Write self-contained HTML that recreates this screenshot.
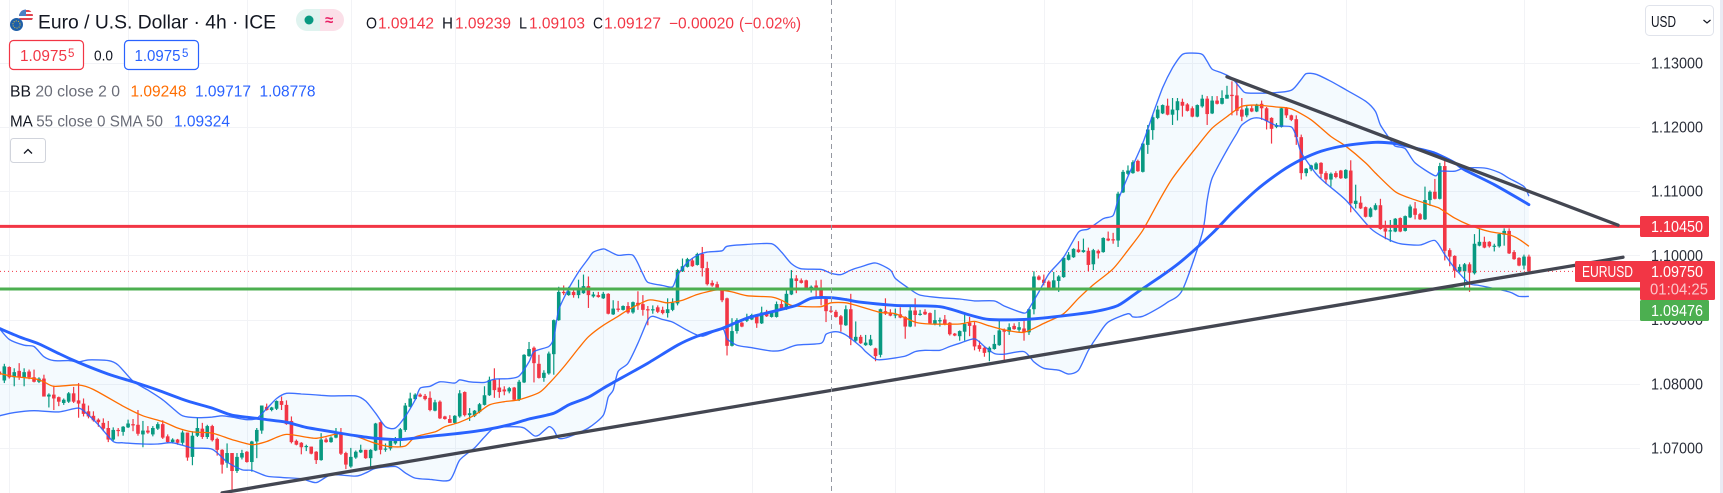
<!DOCTYPE html>
<html lang="en">
<head>
<meta charset="utf-8">
<title>EURUSD 4h chart</title>
<style>
html,body{margin:0;padding:0;background:#fff;width:1723px;height:493px;overflow:hidden}
svg{display:block;font-family:"Liberation Sans",sans-serif}
</style>
</head>
<body>
<svg id="chart" xmlns="http://www.w3.org/2000/svg" width="1723" height="493" viewBox="0 0 1723 493">
  <rect x="0" y="0" width="1723" height="493" fill="#ffffff"/>
  <g id="grid"></g>
  <path id="bbFill" fill="#2196f3" fill-opacity="0.05" stroke="none"/>
  <g id="candles"></g>
  <path id="bbBasis" fill="none" stroke="#ff6d00" stroke-width="1.3" stroke-linejoin="round"/>
  <path id="bbUpper" fill="none" stroke="#2962ff" stroke-opacity="0.9" stroke-width="1.35" stroke-linejoin="round"/>
  <path id="bbLower" fill="none" stroke="#2962ff" stroke-opacity="0.9" stroke-width="1.35" stroke-linejoin="round"/>
  <path id="maLine" fill="none" stroke="#2962ff" stroke-width="2.9" stroke-linejoin="round" stroke-linecap="round"/>
  <line id="lastLine" x1="0" x2="1640" stroke="#f23645" stroke-width="1" stroke-dasharray="1 3"/>
  <line id="resLine" x1="0" x2="1640" stroke="#f23645" stroke-width="3"/>
  <line id="supLine" x1="0" x2="1640" stroke="#4caf50" stroke-width="3"/>
  <line id="trendDown" stroke="#434651" stroke-width="3.3" stroke-linecap="round"/>
  <line id="trendUp" stroke="#434651" stroke-width="3.3" stroke-linecap="round"/>
  <line id="crosshair" x1="831.5" x2="831.5" y1="0" y2="493" stroke="#9598a1" stroke-width="1" stroke-dasharray="5 4"/>

  <rect x="1640" y="0" width="83" height="493" fill="#ffffff"/>
  <rect x="1720" y="0" width="3" height="493" fill="#e9ebf4"/>
  <g id="ticks"></g>

  <g>
    <rect x="1645.5" y="5.5" width="68" height="30" rx="4" fill="#fff" stroke="#e0e3eb"/>
    <text x="1651" y="27" font-size="15.5" fill="#131722" textLength="25" lengthAdjust="spacingAndGlyphs">USD</text>
    <path d="M1703.5 20l3.5 3 3.5-3" fill="none" stroke="#131722" stroke-width="1.2"/>
  </g>

  <g>
    <rect x="1640" y="216" width="69" height="21" rx="1.5" fill="#f23645"/>
    <text x="1651" y="232" font-size="15.5" fill="#fff" textLength="52" lengthAdjust="spacingAndGlyphs">1.10450</text>
  </g>
  <g>
    <rect x="1575" y="261" width="68" height="21" rx="1.5" fill="#f23645"/>
    <text x="1582" y="277" font-size="15.5" fill="#fff" textLength="51" lengthAdjust="spacingAndGlyphs">EURUSD</text>
    <rect x="1640" y="261" width="75" height="39" rx="1.5" fill="#f23645"/>
    <text x="1651" y="277" font-size="15.5" fill="#fff" textLength="52" lengthAdjust="spacingAndGlyphs">1.09750</text>
    <text x="1650" y="294.5" font-size="15.5" fill="#fbc4c9" textLength="58" lengthAdjust="spacingAndGlyphs">01:04:25</text>
  </g>
  <g>
    <rect x="1640" y="300" width="69" height="21" rx="1.5" fill="#4caf50"/>
    <text x="1651" y="316" font-size="15.5" fill="#fff" textLength="52" lengthAdjust="spacingAndGlyphs">1.09476</text>
  </g>

  <g>
    <clipPath id="usClip"><circle cx="26" cy="16.5" r="7"/></clipPath>
    <g clip-path="url(#usClip)">
      <rect x="19" y="9" width="14" height="15" fill="#fff"/>
      <rect x="19" y="10" width="14" height="2" fill="#e0424e"/>
      <rect x="19" y="14" width="14" height="2" fill="#e0424e"/>
      <rect x="19" y="18" width="14" height="2" fill="#e0424e"/>
      <rect x="19" y="9" width="7" height="7" fill="#4a7fc4"/>
    </g>
    <circle cx="16.5" cy="24.5" r="6.5" fill="#1e5fa8"/>
    <circle cx="16.5" cy="24.5" r="3.6" fill="none" stroke="#e8c53a" stroke-width="1" stroke-dasharray="1 1.3"/>
  </g>
  <text x="38" y="28.5" font-size="19.5" fill="#131722" textLength="238" lengthAdjust="spacingAndGlyphs">Euro / U.S. Dollar · 4h · ICE</text>

  <g>
    <path d="M320 9h-13a11 11 0 0 0 0 22h13z" fill="#dff3ef"/>
    <path d="M320 9h13a11 11 0 0 1 0 22h-13z" fill="#fbdfe8"/>
    <circle cx="309" cy="20" r="4.5" fill="#089981"/>
    <text x="325" y="25" font-size="15" font-weight="bold" fill="#e91e63">≈</text>
  </g>

  <g font-size="15.5">
    <text x="366" y="28.5" fill="#131722" textLength="11" lengthAdjust="spacingAndGlyphs">O</text>
    <text x="378" y="28.5" fill="#f23645" textLength="56" lengthAdjust="spacingAndGlyphs">1.09142</text>
    <text x="442" y="28.5" fill="#131722" textLength="11" lengthAdjust="spacingAndGlyphs">H</text>
    <text x="455" y="28.5" fill="#f23645" textLength="56" lengthAdjust="spacingAndGlyphs">1.09239</text>
    <text x="519" y="28.5" fill="#131722" textLength="8" lengthAdjust="spacingAndGlyphs">L</text>
    <text x="529" y="28.5" fill="#f23645" textLength="56" lengthAdjust="spacingAndGlyphs">1.09103</text>
    <text x="593" y="28.5" fill="#131722" textLength="10" lengthAdjust="spacingAndGlyphs">C</text>
    <text x="604" y="28.5" fill="#f23645" textLength="57" lengthAdjust="spacingAndGlyphs">1.09127</text>
    <text x="669" y="28.5" fill="#f23645" textLength="65" lengthAdjust="spacingAndGlyphs">−0.00020</text>
    <text x="739" y="28.5" fill="#f23645" textLength="62" lengthAdjust="spacingAndGlyphs">(−0.02%)</text>
  </g>

  <g>
    <rect x="9.5" y="40.5" width="74" height="29" rx="4" fill="#fff" stroke="#f23645" stroke-width="1.2"/>
    <text x="20" y="61" font-size="15.5" fill="#f23645" textLength="47" lengthAdjust="spacingAndGlyphs">1.0975</text>
    <text x="68" y="57" font-size="11.5" fill="#f23645">5</text>
  </g>
  <text x="94" y="60.5" font-size="15" fill="#131722" textLength="19" lengthAdjust="spacingAndGlyphs">0.0</text>
  <g>
    <rect x="124.5" y="40.5" width="74" height="29" rx="4" fill="#fff" stroke="#2962ff" stroke-width="1.2"/>
    <text x="134.5" y="61" font-size="15.5" fill="#2962ff" textLength="46" lengthAdjust="spacingAndGlyphs">1.0975</text>
    <text x="182" y="57" font-size="11.5" fill="#2962ff">5</text>
  </g>

  <g font-size="15.5">
    <text x="10" y="96.5" fill="#6a6d78" textLength="110" lengthAdjust="spacingAndGlyphs"><tspan fill="#131722">BB</tspan> 20 close 2 0</text>
    <text x="130.5" y="96.5" fill="#ff6d00" textLength="56" lengthAdjust="spacingAndGlyphs">1.09248</text>
    <text x="195" y="96.5" fill="#2962ff" textLength="56" lengthAdjust="spacingAndGlyphs">1.09717</text>
    <text x="259.5" y="96.5" fill="#2962ff" textLength="56" lengthAdjust="spacingAndGlyphs">1.08778</text>
  </g>
  <g font-size="15.5">
    <text x="10" y="126.5" fill="#6a6d78" textLength="153" lengthAdjust="spacingAndGlyphs"><tspan fill="#131722">MA</tspan> 55 close 0 SMA 50</text>
    <text x="174" y="126.5" fill="#2962ff" textLength="56" lengthAdjust="spacingAndGlyphs">1.09324</text>
  </g>
  <g>
    <rect x="10.5" y="138.5" width="35" height="24" rx="3" fill="#fff" stroke="#d1d4dc"/>
    <path d="M24 153.5l4-4 4 4" fill="none" stroke="#131722" stroke-width="1.3"/>
  </g>
</svg>

<script>
const opens=[
1.0819,1.0805,1.0826,1.0810,1.0820,1.0810,1.0819,1.0810,1.0803,1.0808,
1.0780,1.0783,1.0779,1.0770,1.0772,1.0785,1.0774,1.0769,1.0757,1.0750,
1.0744,1.0739,1.0731,1.0713,1.0728,1.0725,1.0732,1.0737,1.0736,1.0721,
1.0727,1.0721,1.0730,1.0737,1.0718,1.0709,1.0713,1.0708,1.0724,1.0686,
1.0719,1.0730,1.0717,1.0734,1.0714,1.0697,1.0677,1.0692,1.0664,1.0685,
1.0694,1.0678,1.0710,1.0727,1.0764,1.0759,1.0761,1.0773,1.0767,1.0742,
1.0711,1.0708,1.0702,1.0702,1.0694,1.0681,1.0713,1.0709,1.0716,1.0724,
1.0692,1.0671,1.0685,1.0693,1.0697,1.0684,1.0696,1.0740,1.0698,1.0699,
1.0707,1.0711,1.0728,1.0764,1.0776,1.0783,1.0781,1.0778,1.0758,1.0772,
1.0749,1.0745,1.0739,1.0749,1.0787,1.0751,1.0750,1.0756,1.0767,1.0782,
1.0806,1.0794,1.0791,1.0788,1.0794,1.0775,1.0802,1.0843,1.0856,1.0831,
1.0809,1.0816,1.0846,1.0899,1.0943,1.0938,1.0943,1.0938,1.0941,1.0952,
1.0936,1.0938,1.0933,1.0940,1.0908,1.0917,1.0915,1.0921,1.0911,1.0926,
1.0924,1.0916,1.0915,1.0919,1.0915,1.0910,1.0915,1.0925,1.0975,1.0982,
1.0992,1.0985,1.1002,1.0980,1.0957,1.0955,1.0946,1.0933,1.0859,1.0882,
1.0895,1.0898,1.0900,1.0907,1.0894,1.0912,1.0904,1.0904,1.0924,1.0916,
1.0939,1.0964,1.0961,1.0961,1.0947,1.0953,1.0948,1.0935,1.0914,1.0912,
1.0905,1.0891,1.0916,1.0867,1.0873,1.0860,1.0860,1.0855,1.0845,1.0913,
1.0911,1.0907,1.0908,1.0904,1.0889,1.0914,1.0907,1.0912,1.0910,1.0893,
1.0898,1.0900,1.0895,1.0878,1.0874,1.0881,1.0895,1.0891,1.0860,1.0856,
1.0849,1.0854,1.0860,1.0884,1.0881,1.0890,1.0884,1.0886,1.0880,1.0916,
1.0967,1.0962,1.0959,1.0948,1.0960,1.0966,1.0993,1.0997,1.1009,1.1005,
1.1007,1.0986,1.1007,1.1005,1.1026,1.1025,1.1023,1.1098,1.1127,1.1128,
1.1147,1.1130,1.1172,1.1195,1.1214,1.1221,1.1233,1.1219,1.1226,1.1239,
1.1235,1.1229,1.1216,1.1232,1.1244,1.1221,1.1241,1.1236,1.1244,1.1250,
1.1249,1.1227,1.1218,1.1229,1.1224,1.1236,1.1229,1.1214,1.1200,1.1200,
1.1229,1.1218,1.1212,1.1184,1.1128,1.1134,1.1134,1.1144,1.1128,1.1118,
1.1128,1.1132,1.1120,1.1132,1.1080,1.1082,1.1075,1.1060,1.1071,1.1078,
1.1042,1.1038,1.1037,1.1058,1.1038,1.1059,1.1073,1.1064,1.1056,1.1086,
1.1099,1.1088,1.1139,1.1008,1.0999,1.0975,1.0975,1.0986,1.0972,1.1015,
1.1021,1.1021,1.1014,1.1014,1.1032,1.1038,1.1005,1.0996,1.0984,1.0998];
const highs=[
1.0823,1.0831,1.0827,1.0824,1.0832,1.0824,1.0822,1.0822,1.0810,1.0814,
1.0785,1.0797,1.0780,1.0777,1.0787,1.0795,1.0801,1.0777,1.0766,1.0757,
1.0746,1.0746,1.0742,1.0732,1.0731,1.0734,1.0744,1.0745,1.0759,1.0742,
1.0734,1.0734,1.0740,1.0743,1.0721,1.0715,1.0714,1.0727,1.0724,1.0726,
1.0747,1.0739,1.0736,1.0736,1.0716,1.0698,1.0707,1.0692,1.0692,1.0697,
1.0695,1.0711,1.0731,1.0766,1.0769,1.0764,1.0774,1.0780,1.0774,1.0749,
1.0713,1.0709,1.0705,1.0702,1.0695,1.0723,1.0716,1.0718,1.0731,1.0731,
1.0694,1.0700,1.0696,1.0705,1.0697,1.0698,1.0739,1.0741,1.0707,1.0711,
1.0717,1.0731,1.0770,1.0786,1.0785,1.0785,1.0784,1.0788,1.0775,1.0774,
1.0750,1.0751,1.0751,1.0790,1.0788,1.0762,1.0759,1.0770,1.0796,1.0811,
1.0824,1.0808,1.0796,1.0795,1.0795,1.0806,1.0846,1.0865,1.0858,1.0845,
1.0821,1.0850,1.0900,1.0951,1.0953,1.0951,1.0946,1.0962,1.0970,1.0967,
1.0943,1.0943,1.0943,1.0941,1.0930,1.0929,1.0922,1.0927,1.0928,1.0944,
1.0938,1.0921,1.0922,1.0922,1.0920,1.0933,1.0933,1.0979,1.0995,1.0996,
1.0995,1.1004,1.1013,1.0990,1.0961,1.0959,1.0947,1.0934,1.0902,1.0902,
1.0896,1.0909,1.0909,1.0908,1.0920,1.0915,1.0912,1.0928,1.0929,1.0946,
1.0977,1.0969,1.0964,1.0962,1.0953,1.0961,1.0962,1.0936,1.0921,1.0915,
1.0907,1.0922,1.0940,1.0897,1.0876,1.0876,1.0876,1.0856,1.0917,1.0933,
1.0916,1.0917,1.0919,1.0905,1.0921,1.0933,1.0915,1.0916,1.0911,1.0915,
1.0903,1.0907,1.0896,1.0879,1.0883,1.0909,1.0904,1.0896,1.0867,1.0858,
1.0858,1.0876,1.0900,1.0886,1.0894,1.0894,1.0896,1.0899,1.0917,1.0975,
1.0969,1.0970,1.0961,1.0974,1.0969,1.0997,1.1005,1.1011,1.1022,1.1026,
1.1012,1.1010,1.1009,1.1028,1.1037,1.1035,1.1099,1.1133,1.1140,1.1148,
1.1149,1.1175,1.1203,1.1219,1.1233,1.1235,1.1244,1.1245,1.1245,1.1244,
1.1237,1.1232,1.1235,1.1250,1.1248,1.1248,1.1248,1.1257,1.1264,1.1271,
1.1271,1.1245,1.1233,1.1233,1.1236,1.1241,1.1231,1.1215,1.1206,1.1231,
1.1231,1.1219,1.1218,1.1188,1.1136,1.1141,1.1145,1.1145,1.1131,1.1129,
1.1131,1.1133,1.1134,1.1148,1.1110,1.1092,1.1076,1.1075,1.1081,1.1088,
1.1054,1.1055,1.1058,1.1059,1.1062,1.1079,1.1083,1.1066,1.1107,1.1101,
1.1119,1.1144,1.1148,1.1011,1.1000,1.0986,1.0988,1.0989,1.1033,1.1042,
1.1029,1.1022,1.1018,1.1034,1.1042,1.1042,1.1008,1.0997,1.1001,1.1001];
const lows=[
1.0809,1.0801,1.0808,1.0796,1.0806,1.0796,1.0807,1.0802,1.0801,1.0780,
1.0763,1.0759,1.0765,1.0767,1.0770,1.0770,1.0747,1.0749,1.0746,1.0741,
1.0733,1.0726,1.0709,1.0711,1.0718,1.0719,1.0731,1.0726,1.0719,1.0701,
1.0722,1.0718,1.0728,1.0714,1.0707,1.0707,1.0705,1.0705,1.0680,1.0673,
1.0717,1.0714,1.0714,1.0710,1.0688,1.0660,1.0669,1.0635,1.0661,1.0682,
1.0677,1.0663,1.0684,1.0722,1.0758,1.0757,1.0759,1.0759,1.0736,1.0707,
1.0704,1.0690,1.0695,1.0690,1.0675,1.0680,1.0708,1.0708,1.0715,1.0689,
1.0667,1.0669,1.0683,1.0692,1.0683,1.0670,1.0695,1.0690,1.0694,1.0696,
1.0705,1.0701,1.0725,1.0763,1.0775,1.0779,1.0774,1.0757,1.0757,1.0745,
1.0744,1.0739,1.0738,1.0747,1.0749,1.0742,1.0748,1.0754,1.0766,1.0781,
1.0778,1.0778,1.0782,1.0785,1.0773,1.0773,1.0801,1.0842,1.0802,1.0808,
1.0803,1.0814,1.0814,1.0898,1.0938,1.0937,1.0934,1.0933,1.0940,1.0918,
1.0934,1.0934,1.0932,1.0908,1.0907,1.0912,1.0914,1.0909,1.0909,1.0915,
1.0906,1.0891,1.0909,1.0910,1.0908,1.0903,1.0913,1.0922,1.0974,1.0981,
1.0982,1.0984,1.0967,1.0953,1.0951,1.0948,1.0927,1.0844,1.0858,1.0878,
1.0888,1.0896,1.0899,1.0887,1.0893,1.0904,1.0903,1.0903,1.0915,1.0915,
1.0938,1.0941,1.0956,1.0946,1.0942,1.0935,1.0922,1.0896,1.0910,1.0903,
1.0881,1.0890,1.0860,1.0865,1.0862,1.0859,1.0859,1.0835,1.0841,1.0907,
1.0905,1.0902,1.0902,1.0870,1.0888,1.0889,1.0906,1.0907,1.0893,1.0891,
1.0889,1.0891,1.0875,1.0874,1.0867,1.0867,1.0874,1.0852,1.0850,1.0842,
1.0835,1.0853,1.0859,1.0836,1.0876,1.0884,1.0881,1.0867,1.0876,1.0908,
1.0961,1.0953,1.0947,1.0947,1.0943,1.0965,1.0992,1.0996,1.1004,1.1004,
1.0975,1.0977,1.0995,1.1004,1.1022,1.1018,1.1013,1.1097,1.1125,1.1127,
1.1130,1.1129,1.1158,1.1180,1.1212,1.1220,1.1218,1.1203,1.1210,1.1216,
1.1224,1.1215,1.1215,1.1230,1.1203,1.1220,1.1235,1.1235,1.1244,1.1218,
1.1218,1.1209,1.1215,1.1223,1.1223,1.1211,1.1196,1.1174,1.1198,1.1199,
1.1214,1.1209,1.1172,1.1118,1.1123,1.1131,1.1133,1.1120,1.1111,1.1107,
1.1120,1.1119,1.1119,1.1067,1.1073,1.1072,1.1059,1.1059,1.1070,1.1040,
1.1025,1.1021,1.1036,1.1036,1.1037,1.1058,1.1056,1.1055,1.1055,1.1077,
1.1087,1.1087,1.0992,1.0983,1.0965,1.0973,1.0950,1.0943,1.0970,1.1014,
1.1011,1.1012,1.1006,1.1012,1.1015,1.1002,1.0993,1.0983,1.0978,1.0973];
const closes=[
1.0814,1.0827,1.0810,1.0818,1.0810,1.0818,1.0810,1.0803,1.0808,1.0780,
1.0783,1.0777,1.0772,1.0775,1.0785,1.0772,1.0769,1.0753,1.0749,1.0743,
1.0740,1.0730,1.0713,1.0728,1.0727,1.0733,1.0738,1.0735,1.0722,1.0727,
1.0724,1.0731,1.0737,1.0716,1.0709,1.0713,1.0708,1.0724,1.0685,1.0719,
1.0731,1.0717,1.0734,1.0712,1.0697,1.0674,1.0692,1.0664,1.0686,1.0692,
1.0678,1.0710,1.0728,1.0766,1.0759,1.0763,1.0773,1.0767,1.0737,1.0709,
1.0705,1.0701,1.0703,1.0691,1.0681,1.0713,1.0709,1.0716,1.0724,1.0691,
1.0674,1.0686,1.0694,1.0697,1.0684,1.0697,1.0738,1.0697,1.0699,1.0711,
1.0713,1.0729,1.0766,1.0777,1.0783,1.0780,1.0776,1.0759,1.0771,1.0746,
1.0745,1.0739,1.0750,1.0785,1.0751,1.0754,1.0758,1.0768,1.0782,1.0806,
1.0790,1.0787,1.0788,1.0793,1.0775,1.0803,1.0845,1.0854,1.0832,1.0809,
1.0817,1.0847,1.0899,1.0943,1.0941,1.0944,1.0938,1.0946,1.0952,1.0938,
1.0939,1.0935,1.0940,1.0909,1.0917,1.0915,1.0921,1.0911,1.0927,1.0922,
1.0915,1.0915,1.0916,1.0912,1.0910,1.0916,1.0926,1.0977,1.0983,1.0994,
1.0983,1.1002,1.0980,1.0955,1.0953,1.0949,1.0930,1.0859,1.0882,1.0899,
1.0889,1.0903,1.0907,1.0894,1.0911,1.0905,1.0911,1.0924,1.0916,1.0940,
1.0964,1.0960,1.0957,1.0948,1.0951,1.0948,1.0933,1.0913,1.0912,1.0904,
1.0892,1.0916,1.0870,1.0873,1.0863,1.0864,1.0869,1.0843,1.0916,1.0909,
1.0906,1.0908,1.0903,1.0889,1.0914,1.0907,1.0909,1.0908,1.0894,1.0899,
1.0899,1.0893,1.0877,1.0875,1.0882,1.0893,1.0890,1.0858,1.0854,1.0848,
1.0856,1.0862,1.0883,1.0881,1.0888,1.0885,1.0888,1.0880,1.0916,1.0967,
1.0962,1.0957,1.0948,1.0961,1.0967,1.0996,1.1001,1.1010,1.1005,1.1008,
1.0985,1.1008,1.1003,1.1027,1.1023,1.1024,1.1096,1.1130,1.1132,1.1145,
1.1131,1.1174,1.1196,1.1215,1.1227,1.1234,1.1219,1.1227,1.1240,1.1233,
1.1225,1.1216,1.1234,1.1244,1.1220,1.1241,1.1236,1.1245,1.1250,1.1248,
1.1225,1.1216,1.1229,1.1224,1.1235,1.1229,1.1209,1.1197,1.1203,1.1229,
1.1218,1.1211,1.1184,1.1128,1.1135,1.1140,1.1143,1.1127,1.1118,1.1127,
1.1122,1.1120,1.1133,1.1081,1.1085,1.1073,1.1060,1.1073,1.1078,1.1041,
1.1037,1.1039,1.1057,1.1037,1.1061,1.1076,1.1063,1.1056,1.1086,1.1099,
1.1088,1.1139,1.1007,1.0998,1.0976,1.0982,1.0986,1.0973,1.1018,1.1021,
1.1012,1.1014,1.1015,1.1033,1.1038,1.1003,1.0994,1.0984,1.0998,1.0975];

const upperBars=[0,2,5,7,9,11,14,16,18,22,24,27,30,33,35,37,40,43,45,47,50,52,54,56,58,61,65,67,72,74,76,78,80,82,84,85,87,89,92,93,95,98,100,103,105,107,108,111,112,113,115,117,119,120,122,123,125,128,130,131,134,136,137,139,141,143,146,147,151,156,158,160,162,166,168,170,172,174,177,180,181,184,186,190,194,197,201,203,207,208,210,212,215,218,220,223,225,226,228,231,233,235,237,239,241,243,244,245,247,249,251,252,257,261,263,264,266,269,272,276,278,279,281,282,284,286,290,291,294,296,300,303,305,308,309];
const upperValues=[1.0886,1.0869,1.0860,1.0858,1.0842,1.0836,1.0836,1.0834,1.0837,1.0836,1.0829,1.0804,1.0790,1.0775,1.0762,1.0750,1.0747,1.0748,1.0750,1.0748,1.0744,1.0746,1.0761,1.0777,1.0785,1.0784,1.0782,1.0781,1.0781,1.0773,1.0754,1.0733,1.0731,1.0749,1.0775,1.0793,1.0796,1.0803,1.0801,1.0806,1.0803,1.0802,1.0807,1.0808,1.0812,1.0834,1.0850,1.0858,1.0871,1.0915,1.0948,1.0974,1.0995,1.1005,1.1010,1.1007,1.1000,1.1000,1.0971,1.0958,1.0953,1.0951,1.0969,1.0989,1.1000,1.1005,1.1007,1.1014,1.1017,1.1018,1.1005,1.0987,1.0979,1.0978,1.0972,1.0970,1.0977,1.0982,1.0988,1.0977,1.0964,1.0947,1.0938,1.0934,1.0932,1.0929,1.0929,1.0921,1.0910,1.0917,1.0943,1.0971,1.0997,1.1036,1.1041,1.1057,1.1062,1.1086,1.1123,1.1175,1.1219,1.1261,1.1292,1.1313,1.1315,1.1313,1.1302,1.1290,1.1284,1.1276,1.1258,1.1253,1.1253,1.1257,1.1274,1.1283,1.1282,1.1271,1.1258,1.1240,1.1224,1.1203,1.1180,1.1170,1.1166,1.1144,1.1124,1.1131,1.1131,1.1136,1.1136,1.1129,1.1120,1.1107,1.1092];

const lowerBars=[0,3,7,12,16,18,20,23,25,29,32,35,39,43,46,49,51,54,57,61,64,67,72,74,76,80,82,84,87,91,93,96,98,100,104,106,108,109,111,112,113,115,119,122,123,124,125,127,129,131,132,134,136,139,142,146,147,149,152,156,158,161,166,167,169,171,174,175,177,179,183,185,187,190,192,194,197,199,201,203,207,209,211,214,216,218,220,222,224,228,229,231,234,236,239,243,244,245,248,250,251,253,255,258,261,262,263,266,268,272,277,280,283,287,290,292,294,297,299,305,307,309];
const lowerValues=[1.0750,1.0755,1.0758,1.0756,1.0762,1.0751,1.0736,1.0710,1.0708,1.0706,1.0706,1.0708,1.0700,1.0698,1.0678,1.0666,1.0665,1.0656,1.0654,1.0652,1.0646,1.0658,1.0656,1.0661,1.0668,1.0671,1.0661,1.0653,1.0651,1.0650,1.0681,1.0700,1.0717,1.0731,1.0733,1.0731,1.0719,1.0720,1.0733,1.0728,1.0715,1.0717,1.0731,1.0751,1.0779,1.0790,1.0819,1.0832,1.0863,1.0899,1.0905,1.0900,1.0896,1.0883,1.0874,1.0886,1.0870,1.0860,1.0856,1.0851,1.0852,1.0860,1.0863,1.0877,1.0881,1.0876,1.0858,1.0850,1.0838,1.0838,1.0843,1.0850,1.0852,1.0852,1.0858,1.0863,1.0870,1.0858,1.0847,1.0846,1.0850,1.0834,1.0824,1.0821,1.0815,1.0821,1.0852,1.0876,1.0896,1.0909,1.0904,1.0905,1.0917,1.0927,1.0946,1.1034,1.1086,1.1120,1.1164,1.1190,1.1203,1.1213,1.1213,1.1202,1.1200,1.1185,1.1160,1.1127,1.1112,1.1086,1.1042,1.1027,1.1018,1.1016,1.1023,1.1001,1.0980,1.0956,1.0953,1.0943,1.0936,1.0936];

const basisBars=[0,3,7,9,11,16,19,25,29,33,36,39,43,47,51,54,58,64,69,72,76,79,82,84,88,90,93,96,99,102,105,109,111,114,117,119,122,125,127,131,133,135,138,141,145,148,151,156,158,160,163,166,168,171,174,178,181,185,188,194,197,200,203,207,211,215,218,221,225,228,231,234,237,242,245,248,251,254,258,261,265,269,272,276,278,282,285,290,291,294,297,301,305,307,309];
const basisValues=[1.0816,1.0811,1.0808,1.0803,1.0796,1.0798,1.0791,1.0765,1.0750,1.0741,1.0731,1.0725,1.0723,1.0713,1.0705,1.0710,1.0721,1.0715,1.0723,1.0718,1.0707,1.0702,1.0703,1.0717,1.0725,1.0733,1.0740,1.0751,1.0767,1.0772,1.0775,1.0786,1.0800,1.0826,1.0855,1.0873,1.0891,1.0905,1.0915,1.0930,1.0929,1.0926,1.0930,1.0939,1.0946,1.0943,1.0937,1.0935,1.0930,1.0922,1.0920,1.0920,1.0926,1.0926,1.0920,1.0911,1.0909,1.0896,1.0893,1.0893,1.0897,1.0890,1.0884,1.0880,1.0894,1.0909,1.0933,1.0954,1.0979,1.1008,1.1039,1.1081,1.1120,1.1170,1.1198,1.1216,1.1232,1.1234,1.1231,1.1228,1.1211,1.1185,1.1170,1.1144,1.1128,1.1099,1.1089,1.1076,1.1073,1.1058,1.1047,1.1037,1.1032,1.1025,1.1014];

const maBars=[0,4,8,12,16,22,27,32,38,43,47,53,58,62,68,72,76,81,87,92,98,103,107,112,115,119,122,125,131,137,141,146,151,156,161,164,168,171,174,181,190,196,200,207,214,221,226,230,235,239,245,249,254,259,263,267,272,278,282,286,290,294,296,302,309];
const maValues=[1.0886,1.0873,1.0862,1.0847,1.0833,1.0815,1.0803,1.0790,1.0773,1.0762,1.0751,1.0745,1.0740,1.0732,1.0724,1.0719,1.0715,1.0713,1.0718,1.0722,1.0728,1.0736,1.0745,1.0754,1.0767,1.0779,1.0793,1.0806,1.0832,1.0860,1.0874,1.0886,1.0902,1.0912,1.0922,1.0933,1.0934,1.0931,1.0927,1.0922,1.0920,1.0907,1.0900,1.0900,1.0905,1.0912,1.0922,1.0943,1.0969,1.0992,1.1034,1.1066,1.1102,1.1131,1.1149,1.1162,1.1171,1.1176,1.1174,1.1167,1.1159,1.1144,1.1133,1.1110,1.1079];

const priceTicks=[1.13,1.12,1.11,1.10,1.09,1.08,1.07];
const gridBars=[2,26,50,71,92,122,152,181,211,241,272,308];
const resistanceLevel=1.1045;
const supportLevel=1.09476;
const lastPrice=1.0975;
const trendUpBars=[45,328];
const trendUpValues=[1.0630,1.0997];
const trendDownBars=[248,327];
const trendDownValues=[1.1278,1.1047];

const SVG_NS='http://www.w3.org/2000/svg';
function xScale(bar){return 4.33+(bar-1)*4.95;}
function yScale(price){return 255.3+(1.1-price)*6420;}
function pointList(bars,values){
  const out=[];
  const n=Math.min(bars.length,values.length);
  for(let i=0;i<n;i++){out.push([xScale(bars[i]),yScale(values[i])]);}
  return out;
}
function smoothSegments(pts){
  let d='';
  for(let i=0;i<pts.length-1;i++){
    const p0=pts[Math.max(0,i-1)],p1=pts[i],p2=pts[i+1],p3=pts[Math.min(pts.length-1,i+2)];
    const c1x=p1[0]+(p2[0]-p0[0])/8,c1y=p1[1]+(p2[1]-p0[1])/8;
    const c2x=p2[0]-(p3[0]-p1[0])/8,c2y=p2[1]-(p3[1]-p1[1])/8;
    d+='C'+c1x.toFixed(1)+' '+c1y.toFixed(1)+' '+c2x.toFixed(1)+' '+c2y.toFixed(1)+' '+p2[0].toFixed(1)+' '+p2[1].toFixed(1);
  }
  return d;
}
function linePath(bars,values){
  const pts=pointList(bars,values);
  return 'M'+pts[0][0].toFixed(1)+' '+pts[0][1].toFixed(1)+smoothSegments(pts);
}

const gridGroup=document.getElementById('grid');
priceTicks.forEach(function(p){
  const l=document.createElementNS(SVG_NS,'line');
  
  
  const y=Math.round(yScale(p))+0.5;
  l.setAttribute('x1',0);l.setAttribute('x2',1640);l.setAttribute('y1',y);l.setAttribute('y2',y);
  l.setAttribute('stroke','#f2f3f6');
  gridGroup.appendChild(l);
});
gridBars.forEach(function(b){
  const l=document.createElementNS(SVG_NS,'line');
  
  
  const x=Math.round(xScale(b))+0.5;
  l.setAttribute('x1',x);l.setAttribute('x2',x);l.setAttribute('y1',0);l.setAttribute('y2',493);
  l.setAttribute('stroke','#f2f3f6');
  gridGroup.appendChild(l);
});

const upperPts=pointList(upperBars,upperValues);
const lowerPts=pointList(lowerBars,lowerValues).reverse();
document.getElementById('bbFill').setAttribute('d','M'+upperPts[0][0].toFixed(1)+' '+upperPts[0][1].toFixed(1)+smoothSegments(upperPts)+'L'+lowerPts[0][0].toFixed(1)+' '+lowerPts[0][1].toFixed(1)+smoothSegments(lowerPts)+'Z');
document.getElementById('bbUpper').setAttribute('d',linePath(upperBars,upperValues));
document.getElementById('bbLower').setAttribute('d',linePath(lowerBars,lowerValues));
document.getElementById('bbBasis').setAttribute('d',linePath(basisBars,basisValues));
document.getElementById('maLine').setAttribute('d',linePath(maBars,maValues));

const candleGroup=document.getElementById('candles');
for(let i=0;i<opens.length;i++){
  const up=closes[i]>=opens[i];
  const color=up?'#089981':'#f23645';
  const cx=xScale(i);
  const g=document.createElementNS(SVG_NS,'g');
  
  
  const yH=yScale(highs[i]);
  const yL=yScale(lows[i]);
  const wick=document.createElementNS(SVG_NS,'rect');
  
  
  wick.setAttribute('x',cx-0.6);wick.setAttribute('width',1.2);
  wick.setAttribute('y',yH);wick.setAttribute('height',Math.max(1,yL-yH));
  wick.setAttribute('fill',color);
  g.appendChild(wick);
  const yT=yScale(Math.max(opens[i],closes[i]));
  const yB=yScale(Math.min(opens[i],closes[i]));
  const body=document.createElementNS(SVG_NS,'rect');
  
  
  body.setAttribute('x',cx-1.8);body.setAttribute('width',3.6);
  body.setAttribute('y',yT);body.setAttribute('height',Math.max(1.2,yB-yT));
  body.setAttribute('fill',color);
  g.appendChild(body);
  candleGroup.appendChild(g);
}

function setLevel(id,price){
  const el=document.getElementById(id);
  const y=yScale(price);
  el.setAttribute('y1',y);el.setAttribute('y2',y);
}
setLevel('lastLine',lastPrice);
setLevel('resLine',resistanceLevel);
setLevel('supLine',supportLevel);
function setTrend(id,bars,values){
  const el=document.getElementById(id);
  el.setAttribute('x1',xScale(bars[0]));el.setAttribute('y1',yScale(values[0]));
  el.setAttribute('x2',xScale(bars[1]));el.setAttribute('y2',yScale(values[1]));
}
setTrend('trendUp',trendUpBars,trendUpValues);
setTrend('trendDown',trendDownBars,trendDownValues);

const tickGroup=document.getElementById('ticks');
priceTicks.forEach(function(p){
  const t=document.createElementNS(SVG_NS,'text');
  
  
  t.setAttribute('x',1651);
  t.setAttribute('y',yScale(p)+5.6);
  t.setAttribute('font-size','15.5');
  t.setAttribute('fill','#2a2e39');
  t.setAttribute('textLength','52');
  t.setAttribute('lengthAdjust','spacingAndGlyphs');
  t.textContent=p.toFixed(5);
  tickGroup.appendChild(t);
});
</script>
</body>
</html>
